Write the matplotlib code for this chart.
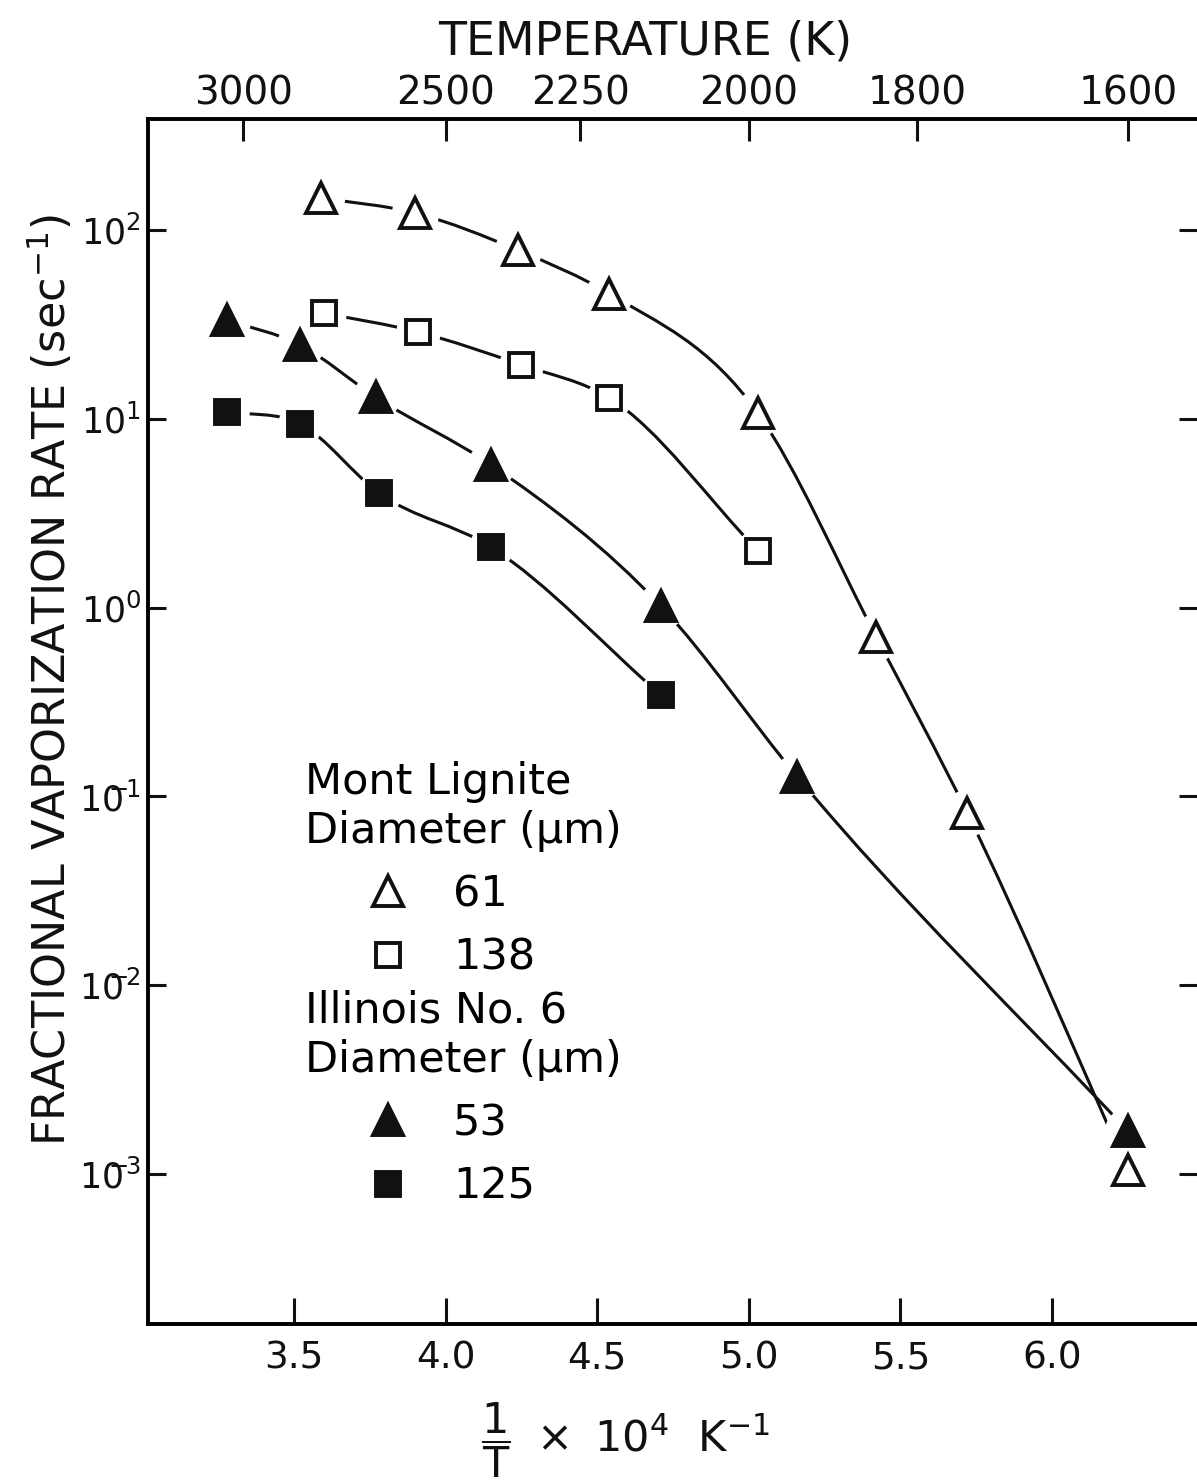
import numpy as np
import matplotlib
matplotlib.use('Agg')
from matplotlib import pyplot as plt
from matplotlib.path import Path
from matplotlib.patches import PathPatch

# Mont Lignite, 61 um (open triangles)
x_ml61 = [3.59, 3.90, 4.24, 4.54, 5.03, 5.42, 5.72, 6.25]
y_ml61 = [148, 123, 78, 46, 10.7, 0.70, 0.082, 0.00105]

# Mont Lignite, 138 um (open squares)
x_ml138 = [3.60, 3.91, 4.25, 4.54, 5.03]
y_ml138 = [36.3, 28.8, 19.3, 12.9, 2.0]

# Illinois No. 6, 53 um (filled triangles)
x_il53 = [3.28, 3.52, 3.77, 4.15, 4.71, 5.16, 6.25]
y_il53 = [33.4, 24.6, 13.0, 5.7, 1.02, 0.127, 0.00169]

# Illinois No. 6, 125 um (filled squares)
x_il125 = [3.28, 3.52, 3.78, 4.15, 4.71]
y_il125 = [10.9, 9.4, 4.05, 2.09, 0.344]

xticks = [3.5, 4.0, 4.5, 5.0, 5.5, 6.0]
yticks = [1e-3, 1e-2, 1e-1, 1e0, 1e1, 1e2]
ytick_labels = [r'$10^{\!\!\!\!\!-\!\!3}$', r'$10^{\!\!\!\!\!-\!\!2}$',
                r'$10^{\!\!\!\!\!-\!\!1}$', r'$10^{0}$', r'$10^{1}$', r'$10^{2}$']
temps = [3000, 2500, 2250, 2000, 1800, 1600]

plt.rcParams['mathtext.fontset'] = 'dejavusans'
plt.rcParams['font.family'] = ['DejaVu Sans']

W, H = 1197, 1482
ink = '#111111'


def smooth_path(xs, ys):
    # cubic Hermite through the points in (x, log y), parabolic tangents
    x = np.array(xs, dtype=float)
    y = np.log10(ys)
    h = np.diff(x)
    d = np.diff(y) / h
    n = len(x)
    m = np.empty(n)
    m[0] = d[0]
    m[-1] = d[-1]
    for i in range(1, n - 1):
        m[i] = (d[i - 1] * h[i] + d[i] * h[i - 1]) / (h[i - 1] + h[i])
    verts = [(x[0], y[0])]
    codes = [Path.MOVETO]
    for i in range(n - 1):
        verts += [(x[i] + h[i] / 3, y[i] + m[i] * h[i] / 3),
                  (x[i + 1] - h[i] / 3, y[i + 1] - m[i + 1] * h[i] / 3),
                  (x[i + 1], y[i + 1])]
        codes += [Path.CURVE4] * 3
    v = np.array(verts)
    v[:, 1] = 10 ** v[:, 1]
    return Path(v, codes)


fig = plt.figure(figsize=(W / 100, H / 100), dpi=100)
ax = fig.add_axes([148 / W, 158 / H, 1 - 148 / W, (1324 - 119) / H])
ax.set_yscale('log')

series = [
    (x_ml61, y_ml61, '^', 21, 'white', 33),
    (x_ml138, y_ml138, 's', 17, 'white', 31),
    (x_il53, y_il53, '^', 21, ink, 33),
    (x_il125, y_il125, 's', 17, ink, 31),
]

handles = []
for xs, ys, mk, ms, fc, halo in series:
    ax.add_patch(PathPatch(smooth_path(xs, ys), fill=False, lw=2.2,
                           edgecolor=ink, zorder=2))
    ax.plot(xs, ys, ls='none', marker='o', ms=halo, mfc='white',
            mec='white', zorder=3)
for xs, ys, mk, ms, fc, halo in series:
    h, = ax.plot(xs, ys, ls='none', marker=mk, ms=ms, mfc=fc, mec=ink,
                 mew=2.8, zorder=4)
    handles.append(h)

ax.set_xlim(3.0185, 6.478)
ax.set_ylim(10 ** -3.794, 10 ** 2.588)

ax.set_xticks(xticks)
ax.set_xticklabels([f'{t:.1f}' for t in xticks])
ax.set_yticks(yticks)
ax.set_yticklabels(ytick_labels)
ax.yaxis.set_minor_locator(matplotlib.ticker.NullLocator())
ax.xaxis.set_minor_locator(matplotlib.ticker.NullLocator())
ax.tick_params(axis='x', direction='in', length=19, width=2.2,
               labelsize=27, pad=12, top=False, colors=ink)
ax.tick_params(axis='y', direction='in', length=13, width=2.2,
               labelsize=25, pad=5, right=True, colors=ink)
for s in ['left', 'bottom', 'top']:
    ax.spines[s].set_linewidth(2.6)
    ax.spines[s].set_color(ink)
ax.spines['right'].set_visible(False)

# temperature scale on top
ax2 = ax.twiny()
ax2.set_xlim(ax.get_xlim())
ax2.set_xticks(1e4 / np.array(temps))
ax2.set_xticklabels([str(t) for t in temps])
ax2.xaxis.set_minor_locator(matplotlib.ticker.NullLocator())
ax2.tick_params(axis='x', direction='in', length=16, width=2.2,
                labelsize=28, pad=5, colors=ink)
ax2.spines['right'].set_visible(False)
for s in ['left', 'bottom', 'top']:
    ax2.spines[s].set_linewidth(2.6)

fig.text(645 / W, 1 - 42 / H, 'TEMPERATURE (K)', fontsize=33,
         ha='center', va='center', color=ink)
fig.text(50 / W, 1 - 680 / H, r'FRACTIONAL VAPORIZATION RATE (sec$^{-1}$)',
         rotation=90, fontsize=32, ha='center', va='center', color=ink)
fig.text(625 / W, 1 - 1440 / H,
         r'$\dfrac{1}{\mathrm{T}}\ \times\ 10^{4}\ \ \mathrm{K}^{-1}$',
         fontsize=31, ha='center', va='center', color=ink)

leg_kw = dict(loc='upper left', bbox_transform=fig.transFigure, frameon=False,
              fontsize=31, title_fontsize=31, alignment='left',
              handlelength=3.86, handletextpad=-0.42, labelspacing=0.5,
              borderpad=0, borderaxespad=0)
leg1 = ax.legend(handles[:2], ['61', '138'], title='Mont Lignite\nDiameter (µm)',
                 bbox_to_anchor=(305 / W, 1 - 761 / H), **leg_kw)
ax.add_artist(leg1)
leg2 = ax.legend(handles[2:], ['53', '125'], title='Illinois No. 6\nDiameter (µm)',
                 bbox_to_anchor=(305 / W, 1 - 990 / H), **leg_kw)

fig.savefig('out.png', dpi=100)
